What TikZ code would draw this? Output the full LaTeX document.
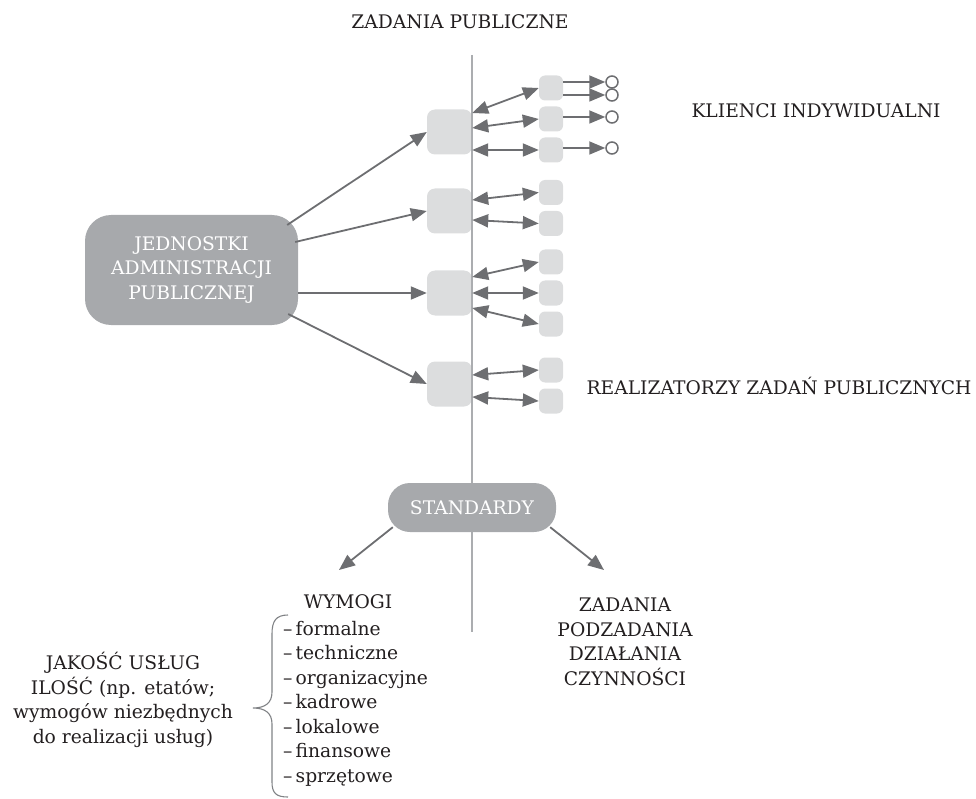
\documentclass[tikz,border=0pt]{standalone}
\usepackage{fontspec}
\setmainfont{DejaVu Serif}
\usetikzlibrary{arrows.meta}
\definecolor{UnitGray}{HTML}{A7A9AC}
\definecolor{TaskGray}{HTML}{DCDDDE}
\definecolor{ArrowGray}{HTML}{6D6E71}
\definecolor{AxisGray}{HTML}{ABADB0}
\definecolor{BraceGray}{HTML}{808285}
\definecolor{InkText}{HTML}{231F20}

\begin{document}
\begin{tikzpicture}[x=1pt, y=-1pt,
        unit/.style={fill=UnitGray, text=white, align=center, inner sep=0pt, font=\fontsize{18.7}{24.5}\selectfont},
        task/.style={fill=TaskGray, rounded corners=8pt, minimum width=45pt, minimum height=45pt, inner sep=0pt},
        sub/.style={fill=TaskGray, rounded corners=6pt, minimum width=24pt, minimum height=25pt, inner sep=0pt},
        client/.style={circle, draw=ArrowGray, line width=1.5pt, minimum size=12pt, inner sep=0pt},
        arr/.style={-{Triangle[length=16pt,width=13pt]}, draw=ArrowGray, line width=1.8pt},
        dbl/.style={{Triangle[length=16pt,width=13pt]}-{Triangle[length=16pt,width=13pt]}, draw=ArrowGray, line width=1.8pt},
        txt/.style={text=InkText, align=center, inner sep=0pt, font=\fontsize{18.7}{24.5}\selectfont}
    ]
        \useasboundingbox (0,0) rectangle (976,799);

        % Administration unit
        \node[unit, minimum width=213pt, minimum height=110pt, rounded corners=26pt] (jap) at (191.5,270) {JEDNOSTKI\\ADMINISTRACJI\\PUBLICZNEJ};

        % Public tasks
        \node[task] (m1) at (449.5,132) {};
        \node[task] (m2) at (449.5,211) {};
        \node[task] (m3) at (449.5,293) {};
        \node[task] (m4) at (449.5,384) {};

        % Task executors
        \node[sub] (s1) at (551,88) {};
        \node[sub] (s2) at (551,119) {};
        \node[sub] (s3) at (551,150) {};
        \node[sub] (s4) at (551,192.5) {};
        \node[sub] (s5) at (551,223.5) {};
        \node[sub] (s6) at (551,262) {};
        \node[sub] (s7) at (551,293) {};
        \node[sub] (s8) at (551,324) {};
        \node[sub] (s9) at (551,370) {};
        \node[sub] (s10) at (551,401) {};

        % Individual clients
        \node[client] (c1) at (612,82) {};
        \node[client] (c2) at (612,95) {};
        \node[client] (c3) at (612,117) {};
        \node[client] (c4) at (612,148) {};

        % Axis
        \coordinate (ztop) at (471.5,55);
        \coordinate (zbot) at (471.5,632);
        \draw[AxisGray, line width=2pt] (ztop) -- (zbot);

        % Standards
        \node[unit, minimum width=168pt, minimum height=49pt, rounded corners=22pt] (std) at (472,507.5) {STANDARDY};

        % Labels
        \node[txt] (title) at (460,22) {ZADANIA PUBLICZNE};
        \node[txt] (clients) at (816,111) {KLIENCI INDYWIDUALNI};
        \node[txt] (makers) at (779,386) {REALIZATORZY ZADAŃ PUBLICZNYCH};
        \node[txt] (wym) at (348,602) {WYMOGI};
        \node[txt, align=left, anchor=north west] (req) at (283,621) {–\,formalne\\–\,techniczne\\–\,organizacyjne\\–\,kadrowe\\–\,lokalowe\\–\,finansowe\\–\,sprzętowe};
        \node[txt] (qual) at (123,700) {JAKOŚĆ USŁUG\\ILOŚĆ (np. etatów;\\wymogów niezbędnych\\do realizacji usług)};
        \node[txt] (steps) at (625,642) {ZADANIA\\PODZADANIA\\DZIAŁANIA\\CZYNNOŚCI};

        % Brace
        \draw[BraceGray, line width=1.1pt] (288,615) .. controls (276,615) and (272,621) .. (272,634) -- (272,692) .. controls (272,703) and (265,708) .. (253,708) .. controls (265,708) and (272,713) .. (272,724) -- (272,782) .. controls (272,793) and (276,797) .. (288,797);

        % Connections
        \draw[arr] ([xshift=-11pt,yshift=45pt]jap.east) -- (m1.west);
        \draw[arr] ([xshift=-3pt,yshift=28pt]jap.east) -- (m2.west);
        \draw[arr] ([yshift=-23pt]jap.east) -- (m3.west);
        \draw[arr] ([xshift=-10pt,yshift=-44pt]jap.east) -- (m4.west);

        \draw[dbl] ([yshift=19pt]m1.east) -- (s1.west);
        \draw[dbl] ([yshift=4pt]m1.east) -- (s2.west);
        \draw[dbl] ([yshift=-18pt]m1.east) -- (s3.west);
        \draw[dbl] ([yshift=11pt]m2.east) -- (s4.west);
        \draw[dbl] ([yshift=-9pt]m2.east) -- (s5.west);
        \draw[dbl] ([yshift=16pt]m3.east) -- (s6.west);
        \draw[dbl] (m3.east) -- (s7.west);
        \draw[dbl] ([yshift=-15pt]m3.east) -- (s8.west);
        \draw[dbl] ([yshift=9pt]m4.east) -- (s9.west);
        \draw[dbl] ([yshift=-13pt]m4.east) -- (s10.west);

        \draw[arr] (s1.east |- c1) -- (c1.west);
        \draw[arr] (s1.east |- c2) -- (c2.west);
        \draw[arr] (s2.east |- c3) -- (c3.west);
        \draw[arr] (s3.east |- c4) -- (c4.west);

        \coordinate (reqtip) at (339,570);
        \coordinate (steptip) at (604,570);
        \draw[arr] ([xshift=5pt,yshift=5pt]std.south west) -- (reqtip);
        \draw[arr] ([xshift=-6pt,yshift=5pt]std.south east) -- (steptip);
    \end{tikzpicture}
\end{document}
